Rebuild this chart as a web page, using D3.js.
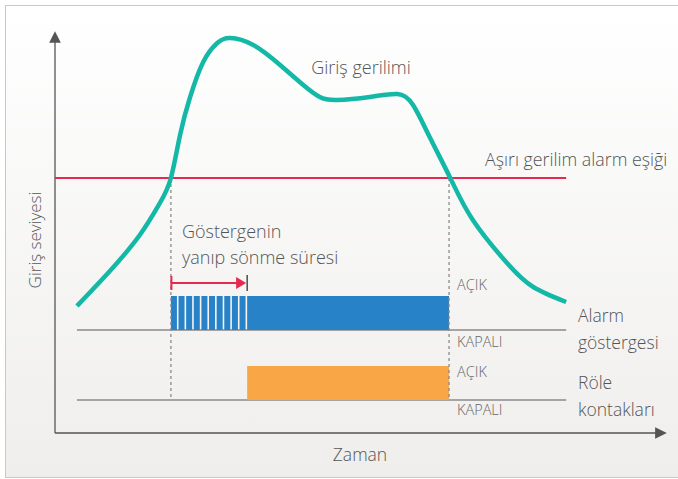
<!DOCTYPE html>
<html><head><meta charset="utf-8">
<script src="https://cdn.jsdelivr.net/npm/d3@7"></script>
<style>html,body{margin:0;padding:0;background:#fff;}svg{display:block;font-family:"Open Sans","Noto Sans",sans-serif;font-weight:300;}</style>
</head><body>
<svg id="c" width="678" height="479"></svg>
<script>
// ---- data ----
const curveT = [3.6, 9.0, 13.9, 17.2, 19.0, 20.5, 22.1, 24.3, 26.6, 28.7, 32.5, 36.9, 40.7, 43.4, 46.2, 51.6, 56.1, 58.7, 61.5, 64.8, 68.5, 74.1, 78.4, 83.8];
const curveL = [31.75, 40.5, 49.5, 57.5, 63.75, 74.5, 83.75, 92.75, 97.5, 98.75, 97, 92, 87, 84, 83.25, 84, 84.75, 82, 73.75, 63.75, 53.25, 42.5, 36.5, 32.75];
const threshold = 63.75;
const tOn = 19.0, tOff = 64.6, tBlinkEnd = 31.5;
const tLineStart = 3.6, tLineEnd = 83.8;
const alarmBase = 25.75, alarmTop = 34.25;
const relayBase = 8.25, relayTop = 16.75;
const arrowLevel = 37.5;
const blinkCount = 10;
const stateLabels = ["AÇIK", "KAPALI"];
const texts = {
  curve: "Giriş gerilimi",
  threshold: "Aşırı gerilim alarm eşiği",
  blink: ["Göstergenin", "yanıp sönme süresi"],
  alarm: ["Alarm", "göstergesi"],
  relay: ["Röle", "kontakları"],
  xTitle: "Zaman",
  yTitle: "Giriş seviyesi"
};

const svg = d3.select("#c");
const W = 678, H = 479;
const defs = svg.append("defs");
const g = defs.append("linearGradient").attr("id","bg").attr("x1",0).attr("y1",0).attr("x2",0).attr("y2",1);
g.append("stop").attr("offset","0%").attr("stop-color","#ffffff");
g.append("stop").attr("offset","100%").attr("stop-color","#efeeec");
svg.append("rect").attr("x",0).attr("y",0).attr("width",W).attr("height",H).attr("fill","#fff");
svg.append("rect").attr("x",5.5).attr("y",5.5).attr("width",W).attr("height",472).attr("fill","url(#bg)").attr("stroke","#c8c8c8");

defs.append("marker").attr("id","axArrow").attr("viewBox","0 0 10 10").attr("refX",5).attr("refY",5)
  .attr("markerWidth",9).attr("markerHeight",9).attr("orient","auto")
  .append("path").attr("d","M0,0 L10,5 L0,10 Z").attr("fill","#555");

const x = d3.scaleLinear().domain([0,100]).range([55,665]);
const y = d3.scaleLinear().domain([0,100]).range([433,33]);

// axes
const xAxis = svg.append("g").attr("transform","translate(0,433)")
  .call(d3.axisBottom(x).tickValues([]).tickSizeOuter(0));
xAxis.select(".domain").attr("stroke","#555").attr("stroke-width",1.3).attr("d",`M${x(0)},0H${x(100)-4}`).attr("marker-end","url(#axArrow)");
const yAxis = svg.append("g").attr("transform","translate(55,0)")
  .call(d3.axisLeft(y).tickValues([]).tickSizeOuter(0));
yAxis.select(".domain").attr("stroke","#555").attr("stroke-width",1.3).attr("d",`M0,${y(0)}V${y(100)+4}`).attr("marker-end","url(#axArrow)");

// baselines
[alarmBase, relayBase].forEach(b => {
  svg.append("line").attr("x1",x(tLineStart)).attr("x2",x(tLineEnd)).attr("y1",y(b)).attr("y2",y(b))
    .attr("stroke","#8a8a8a").attr("stroke-width",1.3);
});

// alarm bar: blinking segments + solid
const segW = (x(tBlinkEnd) - x(tOn)) / blinkCount;
d3.range(blinkCount).forEach(i => {
  svg.append("rect").attr("x", x(tOn) + i*segW).attr("y", y(alarmTop))
    .attr("width", segW - 1.6).attr("height", y(alarmBase) - y(alarmTop)).attr("fill","#2782c8");
});
svg.append("rect").attr("x", x(tBlinkEnd)).attr("y", y(alarmTop))
  .attr("width", x(tOff) - x(tBlinkEnd)).attr("height", y(alarmBase) - y(alarmTop)).attr("fill","#2782c8");

// relay bar
svg.append("rect").attr("x", x(tBlinkEnd)).attr("y", y(relayTop))
  .attr("width", x(tOff) - x(tBlinkEnd)).attr("height", y(relayBase) - y(relayTop)).attr("fill","#f9a646");

// dashed verticals
[tOn, tOff].forEach(t => {
  svg.append("line").attr("x1",x(t)).attr("x2",x(t)).attr("y1",y(threshold)).attr("y2",y(relayBase))
    .attr("stroke","#8a8a8a").attr("stroke-width",1.3).attr("stroke-dasharray","3,3");
});

// threshold line
svg.append("line").attr("x1",x(0)).attr("x2",x(tLineEnd)).attr("y1",y(threshold)).attr("y2",y(threshold))
  .attr("stroke","#e8284f").attr("stroke-width",2);

// curve
const pts = curveT.map((t,i)=>[t, curveL[i]]);
svg.append("path").datum(pts)
  .attr("d", d3.line().x(d=>x(d[0])).y(d=>y(d[1])).curve(d3.curveNatural))
  .attr("fill","none").attr("stroke","#14b8a6").attr("stroke-width",4.5).attr("stroke-linecap","butt");

// blink arrow
const ay = y(arrowLevel);
svg.append("line").attr("x1",x(tOn)).attr("x2",x(tBlinkEnd)-9).attr("y1",ay).attr("y2",ay).attr("stroke","#e8284f").attr("stroke-width",2);
svg.append("line").attr("x1",x(tOn)+0.5).attr("x2",x(tOn)+0.5).attr("y1",ay-7).attr("y2",ay+7).attr("stroke","#e8284f").attr("stroke-width",2);
svg.append("path").attr("d",`M${x(tBlinkEnd)-11},${ay-6} L${x(tBlinkEnd)-1},${ay} L${x(tBlinkEnd)-11},${ay+6} Z`).attr("fill","#e8284f");
svg.append("line").attr("x1",x(tBlinkEnd)).attr("x2",x(tBlinkEnd)).attr("y1",ay-8).attr("y2",ay+8).attr("stroke","#222").attr("stroke-width",1.2);

// texts
const txt = (s, px, py, size, anchor, fill) => svg.append("text").attr("x",px).attr("y",py)
  .attr("font-size",size).attr("fill",fill||"#555").attr("text-anchor",anchor||"start").text(s);

txt(texts.curve, 361, 74, 18, "middle");
txt(texts.threshold, 485, 166, 17.8, "start");
txt(texts.blink[0], 182, 238, 18);
txt(texts.blink[1], 182, 264, 18);
const lx = x(tOff) + 8;
[[0,290],[1,347],[0,377],[1,415]].forEach(([i,py]) => {
  txt(stateLabels[i], lx, py, 14.5, "start", "#666");
});
txt(texts.alarm[0], 578, 322, 17.5);
txt(texts.alarm[1], 578, 349, 17.5);
txt(texts.relay[0], 578, 389, 17.5);
txt(texts.relay[1], 578, 416, 17.5);
txt(texts.xTitle, 360, 461, 17.5, "middle");
svg.append("text").attr("transform","translate(41,240) rotate(-90)").attr("text-anchor","middle")
  .attr("font-size",17).attr("fill","#555").text(texts.yTitle);
</script>
</body></html>
